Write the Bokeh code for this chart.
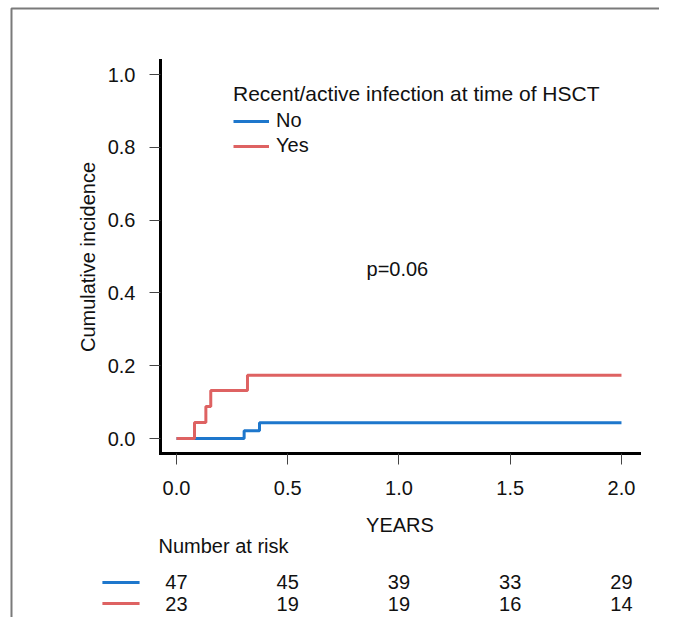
from bokeh.plotting import figure
from bokeh.models import (Range1d, FixedTicker, Legend, LegendItem, NumeralTickFormatter)
from bokeh.embed import file_html
from bokeh.resources import INLINE
from bokeh.core.properties import value

# ---------------- data ----------------
groups = ["No", "Yes"]
no_time = [0.0, 0.304, 0.373, 2.0]
no_cuminc = [0.0, 0.021, 0.043, 0.043]
yes_time = [0.0, 0.081, 0.132, 0.154, 0.319, 2.0]
yes_cuminc = [0.0, 0.044, 0.088, 0.132, 0.174, 0.174]
risk_times = [0.0, 0.5, 1.0, 1.5, 2.0]
risk_no = [47, 45, 39, 33, 29]
risk_yes = [23, 19, 19, 16, 14]
x_ticks = [0.0, 0.5, 1.0, 1.5, 2.0]
y_ticks = [0.0, 0.2, 0.4, 0.6, 0.8, 1.0]
p_value_text = "p=0.06"
legend_title = "Recent/active infection at time of HSCT"
x_label = "YEARS"
y_label = "Cumulative incidence"
risk_header = "Number at risk"

# ---------------- style ----------------
FONT = "Liberation Sans"
FS = "20px"
BLUE = "#1E77CC"
RED = "#DE6262"
TXT = "#111111"
BORDER = "#7a7a7a"

# layout positions (data units, outside the plotted area)
ROW_HEADER_Y = -0.2967
ROW_Y = {"No": -0.3956, "Yes": -0.4533}
HEADER_X = -0.081
SEG_X0, SEG_X1 = -0.333, -0.166
BOX_LEFT, BOX_TOP, BOX_RIGHT, BOX_BOTTOM = -0.7416, 1.1813, 2.1708, -0.4918
PVAL_X, PVAL_Y = 0.854, 0.467

p = figure(width=659, height=617,
           x_range=Range1d(-0.0719, 2.081), y_range=Range1d(-0.0412, 1.0385),
           output_backend="svg", toolbar_location=None,
           min_border_left=160, min_border_right=20, min_border_top=60, min_border_bottom=164)
p.outline_line_color = None
p.grid.visible = False

for ax in (p.xaxis[0], p.yaxis[0]):
    ax.axis_line_width = 3
    ax.axis_line_color = "black"
    ax.axis_line_cap = "square"
    ax.major_tick_line_color = "#444444"
    ax.major_tick_line_width = 1
    ax.major_tick_out = 11
    ax.major_tick_in = 0
    ax.minor_tick_line_color = None
    ax.major_label_text_font = FONT
    ax.major_label_text_font_size = FS
    ax.major_label_text_color = TXT
    ax.axis_label_text_font = FONT
    ax.axis_label_text_font_size = FS
    ax.axis_label_text_font_style = "normal"
    ax.axis_label_text_color = TXT
    ax.formatter = NumeralTickFormatter(format="0.0")

p.xaxis.ticker = FixedTicker(ticks=x_ticks)
p.yaxis.ticker = FixedTicker(ticks=y_ticks)
p.xaxis.axis_label = x_label
p.yaxis.axis_label = y_label
p.xaxis.major_label_standoff = 16
p.yaxis.major_label_standoff = 14
p.xaxis.axis_label_standoff = 16
p.yaxis.axis_label_standoff = 6

r_no = p.step(no_time, no_cuminc, mode="after", line_color=BLUE, line_width=3)
r_yes = p.step(yes_time, yes_cuminc, mode="after", line_color=RED, line_width=3)

legend = Legend(items=[LegendItem(label=groups[0], renderers=[r_no]),
                       LegendItem(label=groups[1], renderers=[r_yes])],
                location=(73, 296), title=legend_title,
                border_line_color=None, background_fill_alpha=0,
                padding=0, margin=0, spacing=2, label_height=20, glyph_height=20,
                glyph_width=36, label_standoff=7, title_standoff=3,
                label_text_font=FONT, label_text_font_size=FS, label_text_color=TXT,
                title_text_font=FONT, title_text_font_size="21px",
                title_text_font_style="normal", title_text_color=TXT)
p.add_layout(legend)

text_kw = dict(text_font=value(FONT), text_font_size=FS, text_color=TXT,
               text_baseline="middle", level="overlay")

p.text(x=[PVAL_X], y=[PVAL_Y], text=[p_value_text], text_align="left", **text_kw)

# ---------------- number at risk table ----------------
p.text(x=[HEADER_X], y=[ROW_HEADER_Y], text=[risk_header], text_align="left", **text_kw)
p.text(x=risk_times, y=[ROW_Y["No"]] * len(risk_times), text=[str(v) for v in risk_no],
       text_align="center", **text_kw)
p.text(x=risk_times, y=[ROW_Y["Yes"]] * len(risk_times), text=[str(v) for v in risk_yes],
       text_align="center", **text_kw)
p.segment(x0=[SEG_X0], y0=[ROW_Y["No"]], x1=[SEG_X1], y1=[ROW_Y["No"]],
          line_color=BLUE, line_width=3, level="overlay")
p.segment(x0=[SEG_X0], y0=[ROW_Y["Yes"]], x1=[SEG_X1], y1=[ROW_Y["Yes"]],
          line_color=RED, line_width=3, level="overlay")

# figure border (left and top edges visible) as one L-shaped polyline
p.line(x=[BOX_RIGHT, BOX_LEFT, BOX_LEFT], y=[BOX_TOP, BOX_TOP, BOX_BOTTOM],
       line_color=BORDER, line_width=2, level="overlay")

open("out.html", "w").write(file_html(p, INLINE))
